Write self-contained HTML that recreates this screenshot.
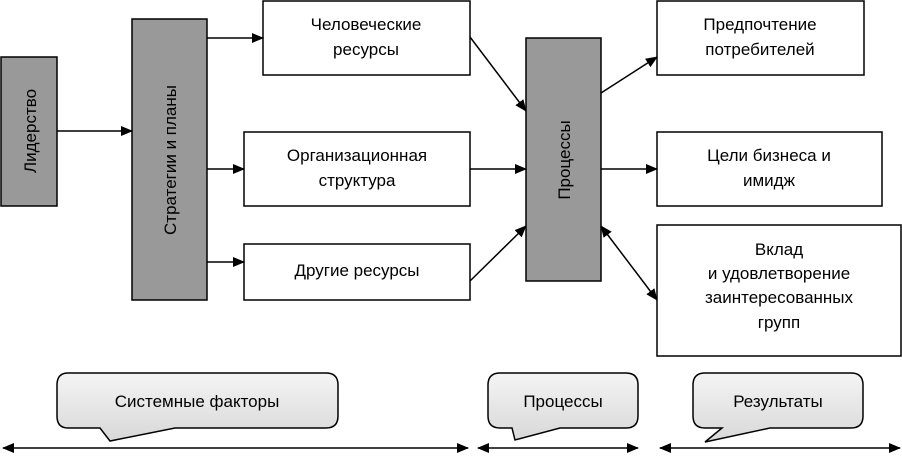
<!DOCTYPE html>
<html><head><meta charset="utf-8"><style>
body{margin:0;background:#fff}
svg text{font-family:"Liberation Sans",Arial,sans-serif;font-size:17px;fill:#000}
</style></head><body>
<svg width="902" height="458" viewBox="0 0 902 458" xmlns="http://www.w3.org/2000/svg">
<defs>
<marker id="a" markerWidth="12" markerHeight="10" refX="11" refY="5" orient="auto" markerUnits="userSpaceOnUse"><path d="M0,0 L12,5 L0,10 z" fill="#000"/></marker>
<marker id="s" markerWidth="12" markerHeight="10" refX="1" refY="5" orient="auto" markerUnits="userSpaceOnUse"><path d="M12,0 L0,5 L12,10 z" fill="#000"/></marker>
<linearGradient id="g" x1="0" y1="0" x2="0" y2="1"><stop offset="0" stop-color="#f4f4f4"/><stop offset="1" stop-color="#d8d8d8"/></linearGradient>
</defs>
<g stroke="#000" stroke-width="1.5">
<rect x="1" y="57" width="56" height="149" fill="#999"/>
<rect x="132" y="19" width="75" height="281" fill="#999"/>
<rect x="526" y="38" width="75" height="243" fill="#999"/>
<rect x="263" y="1" width="207" height="74" fill="#fff"/>
<rect x="244" y="132" width="226" height="74" fill="#fff"/>
<rect x="244" y="244" width="226" height="56" fill="#fff"/>
<rect x="657" y="1" width="207" height="74" fill="#fff"/>
<rect x="657" y="132" width="225" height="74" fill="#fff"/>
<rect x="657" y="225" width="244" height="131" fill="#fff"/>
<g fill="none">
<line x1="57" y1="131" x2="132" y2="131" marker-end="url(#a)"/>
<line x1="207" y1="38" x2="263" y2="38" marker-end="url(#a)"/>
<line x1="207" y1="169" x2="244" y2="169" marker-end="url(#a)"/>
<line x1="207" y1="262" x2="244" y2="262" marker-end="url(#a)"/>
<line x1="470" y1="37" x2="526" y2="111" marker-end="url(#a)"/>
<line x1="470" y1="169" x2="526" y2="169" marker-end="url(#a)"/>
<line x1="470" y1="281" x2="526" y2="226" marker-end="url(#a)"/>
<line x1="601" y1="93" x2="657" y2="57" marker-end="url(#a)"/>
<line x1="601" y1="169" x2="657" y2="169" marker-end="url(#a)"/>
<line x1="601" y1="226" x2="657" y2="300" marker-end="url(#a)" marker-start="url(#s)"/>
<line x1="3" y1="448" x2="468" y2="448" marker-end="url(#a)" marker-start="url(#s)"/>
<line x1="478" y1="448" x2="638" y2="448" marker-end="url(#a)" marker-start="url(#s)"/>
<line x1="660" y1="448" x2="900" y2="448" marker-end="url(#a)" marker-start="url(#s)"/>
</g>
<path d="M68,373 H326 Q338,373 338,385 V416 Q338,428 326,428 H175 L110,441 L100,428 H68 Q57,428 57,416 V385 Q57,373 68,373 Z" fill="url(#g)"/>
<path d="M500,373 H626 Q638,373 638,385 V416 Q638,428 626,428 H560 L515,440 L512,428 H500 Q488,428 488,416 V385 Q488,373 500,373 Z" fill="url(#g)"/>
<path d="M705,373 H851 Q863,373 863,385 V416 Q863,428 851,428 H770 L705,442 L722,428 H705 Q693,428 693,416 V385 Q693,373 705,373 Z" fill="url(#g)"/>
</g>
<text transform="translate(36,131) rotate(-90)" text-anchor="middle">Лидерство</text>
<text transform="translate(176,160) rotate(-90)" text-anchor="middle">Стратегии и планы</text>
<text transform="translate(570,160) rotate(-90)" text-anchor="middle">Процессы</text>
<g text-anchor="middle">
<text x="366" y="30">Человеческие</text><text x="366" y="55">ресурсы</text>
<text x="357" y="161">Организационная</text><text x="357" y="186">структура</text>
<text x="357" y="276">Другие ресурсы</text>
<text x="760" y="30">Предпочтение</text><text x="760" y="55">потребителей</text>
<text x="769" y="161">Цели бизнеса и</text><text x="769" y="186">имидж</text>
<text x="779" y="255">Вклад</text><text x="779" y="279">и удовлетворение</text><text x="779" y="303">заинтересованных</text><text x="779" y="328">групп</text>
<text x="197" y="407">Системные факторы</text>
<text x="563" y="407">Процессы</text>
<text x="778" y="407">Результаты</text>
</g>
</svg>
</body></html>
